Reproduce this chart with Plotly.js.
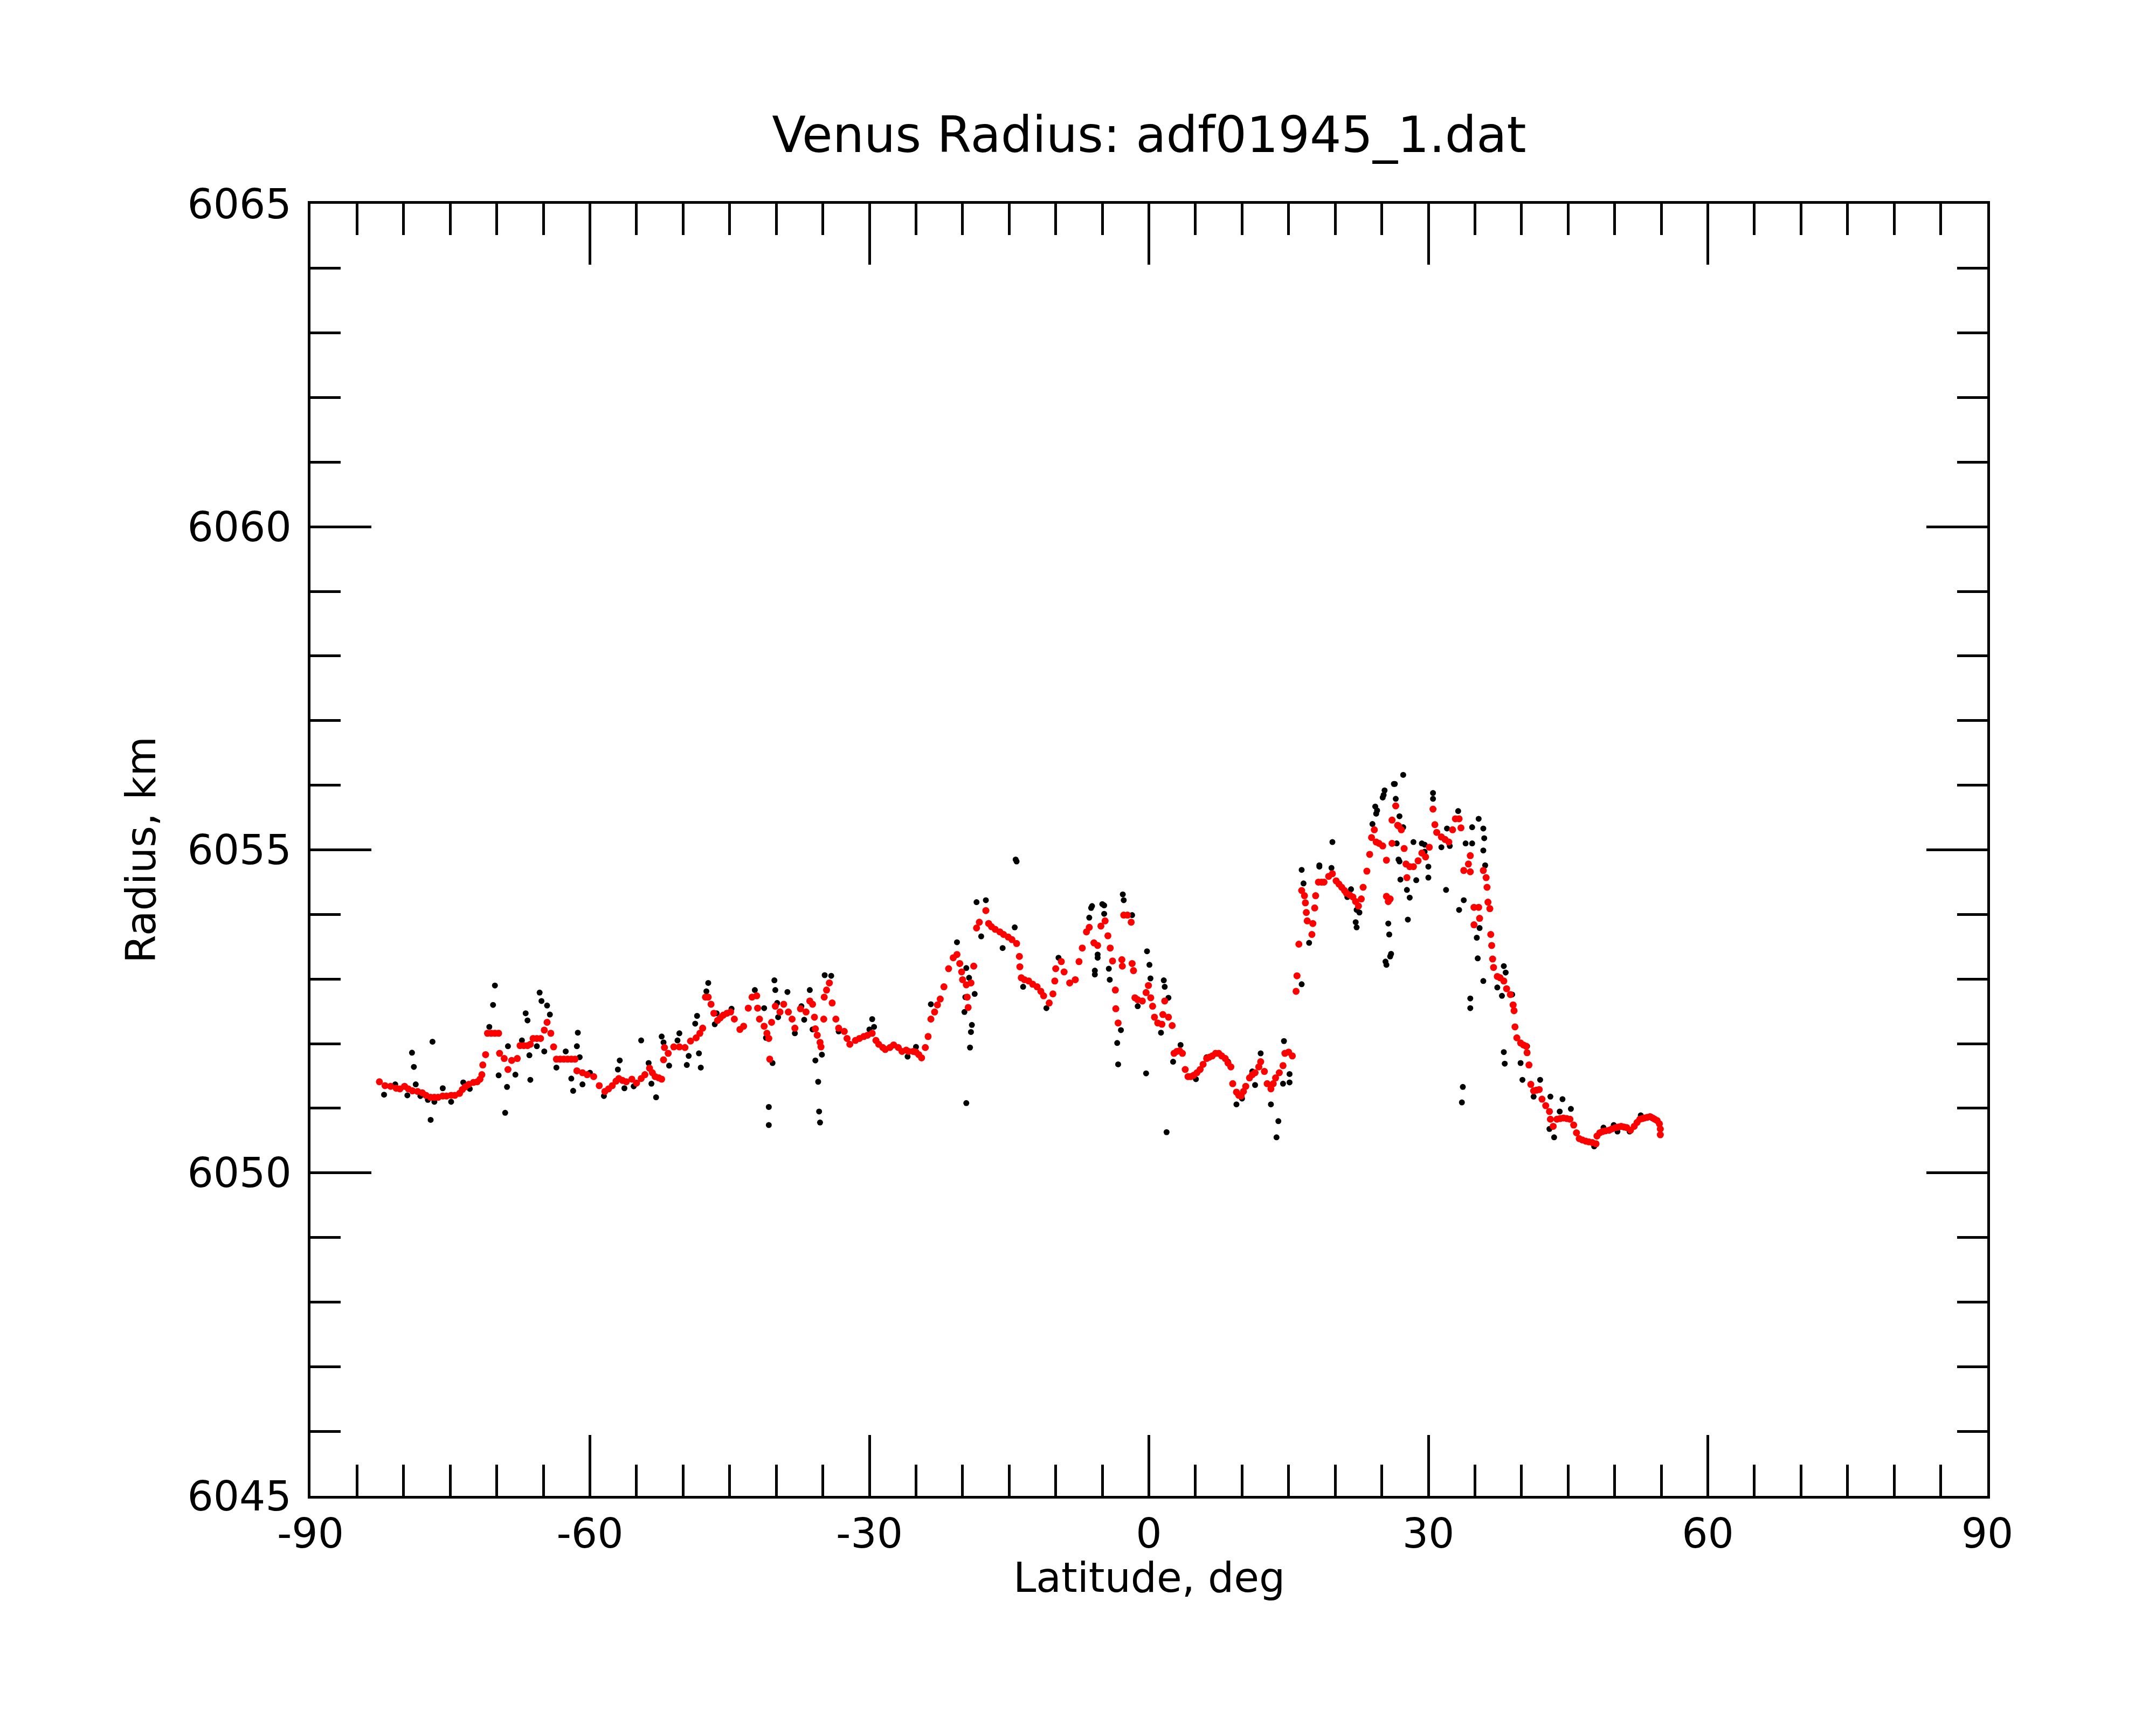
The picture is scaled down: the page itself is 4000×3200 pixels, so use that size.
<!DOCTYPE html>
<html>
<head>
<meta charset="utf-8">
<script src="https://cdn.plot.ly/plotly-3.0.1.min.js"></script>
<style>
  html, body { margin: 0; padding: 0; background: #fff; }
  #plot { width: 4000px; height: 3200px; }
</style>
</head>
<body>
<div id="plot"></div>
<script>
// smoothed radius (red)
const latRed = [
  -82.6, -82.0, -81.4, -80.8, -80.4, -79.9, -79.5, -79.05, -78.5, -78.0,
  -77.6, -77.1, -76.7, -76.3, -75.8, -75.4, -74.9, -74.5, -74.0, -73.7,
  -73.4, -73.0, -72.5, -72.1, -71.8, -71.6, -71.5, -71.2, -71.0, -70.6,
  -70.2, -69.8, -69.7, -69.2, -68.8, -68.4, -67.8, -67.5, -67.1, -66.7,
  -66.4, -66.1, -65.7, -65.3, -64.9, -64.6, -64.2, -63.9, -63.6, -63.2,
  -62.8, -62.4, -62.0, -61.6, -61.4, -60.8, -60.3, -59.6, -59.0, -58.4,
  -58.0, -57.6, -57.2, -56.9, -56.5, -56.1, -55.5, -55.0, -54.5, -54.1,
  -53.6, -53.3, -53.0, -52.6, -52.3, -52.1, -52.0, -51.6,
  -51.0, -50.4, -49.8, -49.2, -48.6, -48.2, -47.9, -47.6, -47.3, -47.0,
  -46.7, -46.3, -46.0, -45.7, -45.3, -44.9, -44.5, -43.9, -43.5, -43.0,
  -42.6, -42.1, -42.0, -41.8, -41.3, -41.0, -40.8, -40.7, -40.5, -40.1,
  -39.6, -39.2, -38.7, -38.3, -38.0, -37.4, -36.8, -36.4, -36.1, -35.9,
  -35.8, -35.6, -35.3, -35.2, -34.9, -34.85, -34.6, -34.3, -34.0, -33.6,
  -33.3, -32.7, -32.4, -32.1, -31.5, -31.07, -30.6, -30.2, -29.7, -29.3,
  -29.0, -28.56, -28.3, -27.8, -27.4, -26.9, -26.5, -26.05, -25.8, -25.3,
  -25.0, -24.7, -24.4, -24.0, -23.7, -23.4, -23.0, -22.7, -22.4, -22.0,
  -21.5, -21.0, -20.6, -20.3, -20.1, -20.0, -19.6, -19.4, -19.5, -19.1,
  -18.8, -18.5, -18.2, -17.5, -17.2, -16.9, -16.5, -16.0, -15.6, -15.1,
  -14.7, -14.2, -13.9, -13.85, -13.7, -13.36, -12.9, -12.47, -12.0, -11.6,
  -11.3, -10.7, -10.3, -10.1, -10.0, -9.4, -9.1, -8.5, -7.9, -7.5,
  -7.15, -6.7, -6.4, -5.9, -5.5, -5.15, -4.7, -4.4, -4.15, -3.9,
  -3.6, -3.55, -3.3, -2.9, -2.85, -2.7, -2.3, -1.9, -1.8, -1.65,
  -1.5, -1.2, -0.7, -0.3, -0.05, 0.2, 0.4, 0.6, 0.95, 1.4,
  1.5, 1.7, 2.1, 2.5, 2.7, 3.0, 3.3, 3.6, 3.9, 4.2,
  4.49, 4.8, 5.16, 5.5, 5.82, 6.2, 6.49, 6.8, 7.16, 7.5,
  7.82, 8.2, 8.49, 8.8, 9.0, 9.4, 9.65, 9.9, 10.15, 10.4,
  10.8, 11.1, 11.4, 11.8, 12.0, 12.4, 12.7, 13.1, 13.35, 13.6,
  14.0, 14.4, 14.6, 15.0, 15.4, 15.8, 15.9, 16.1, 16.4, 16.7,
  16.8, 16.9, 17.0, 17.5, 17.6, 17.8, 17.9, 18.2, 18.53, 18.8,
  19.3, 19.7, 20.1, 20.4, 20.7, 21.0, 21.2, 21.57, 21.9, 22.19,
  22.5, 22.8, 23.0, 23.4, 23.7, 23.9, 24.2, 24.4, 24.7, 25.1,
  25.5, 25.5, 25.7, 25.9, 26.1, 26.1, 26.5, 26.7,
  26.8, 27.1, 27.4, 27.6, 27.7, 28.0, 28.4, 28.9, 29.3, 29.7,
  30.1, 30.5, 30.7, 30.9, 31.4, 31.8, 32.2, 32.6, 32.9, 33.3,
  33.5, 33.8, 34.3, 34.5, 34.5, 34.9, 34.9, 35.4, 35.5, 35.9,
  36.2, 36.3, 36.4, 36.6, 36.7, 36.8, 36.9, 37.0, 37.4, 37.7,
  38.1, 38.4, 38.8, 39.1, 39.2, 39.3, 39.5, 39.9, 40.2, 40.5,
  40.6, 40.8, 41.0, 41.3, 41.6, 41.9, 42.2, 42.6, 43.0, 43.1,
  43.4, 43.8, 44.15, 44.5, 44.87, 45.2, 45.6, 45.9, 46.2, 46.53,
  46.9, 47.22, 47.6, 48.0, 48.1, 48.4, 48.7, 49.0, 49.4, 49.7,
  50.1, 50.4, 50.7, 51.0, 51.3, 51.7, 52.1, 52.4, 52.7, 52.96,
  53.2, 53.5, 53.8, 54.07, 54.3, 54.56, 54.8, 54.9, 54.9
];
const radRed = [
  6051.41, 6051.35, 6051.34, 6051.31, 6051.30, 6051.34, 6051.30, 6051.27, 6051.26, 6051.24,
  6051.20, 6051.17, 6051.17, 6051.17, 6051.19, 6051.19, 6051.20, 6051.20, 6051.23, 6051.29,
  6051.33, 6051.37, 6051.40, 6051.41, 6051.45, 6051.52, 6051.67, 6051.83, 6052.16, 6052.16,
  6052.16, 6052.16, 6051.85, 6051.77, 6051.60, 6051.74, 6051.77, 6051.97, 6051.97, 6051.97,
  6051.99, 6052.08, 6052.08, 6052.08, 6052.21, 6052.33, 6052.16, 6051.95, 6051.76, 6051.76,
  6051.76, 6051.76, 6051.76, 6051.76, 6051.58, 6051.55, 6051.52, 6051.49, 6051.35, 6051.26,
  6051.30, 6051.35, 6051.42, 6051.46, 6051.43, 6051.41, 6051.45, 6051.39, 6051.46, 6051.52,
  6051.62, 6051.55, 6051.49, 6051.47, 6051.45, 6051.75, 6051.94, 6051.85,
  6051.95, 6051.95, 6051.94, 6052.04, 6052.09, 6052.16, 6052.24, 6052.72, 6052.72, 6052.61,
  6052.47, 6052.36, 6052.40, 6052.44, 6052.47, 6052.49, 6052.38, 6052.22, 6052.27, 6052.55,
  6052.72, 6052.74, 6052.55, 6052.38, 6052.27, 6052.16, 6052.08, 6051.76, 6052.33, 6052.58,
  6052.49, 6052.61, 6052.49, 6052.38, 6052.24, 6052.54, 6052.49, 6052.66, 6052.61, 6052.41,
  6052.23, 6052.13, 6052.02, 6051.95, 6052.38, 6052.72, 6052.83, 6052.94, 6052.63, 6052.38,
  6052.24, 6052.19, 6052.08, 6051.99, 6052.05, 6052.08, 6052.11, 6052.13, 6052.16, 6052.05,
  6051.99, 6051.94, 6051.91, 6051.94, 6051.98, 6051.94, 6051.88, 6051.90, 6051.88, 6051.88,
  6051.87, 6051.83, 6051.78, 6051.94, 6052.11, 6052.38, 6052.49, 6052.60, 6052.69, 6052.88,
  6053.16, 6053.33, 6053.38, 6053.24, 6053.11, 6052.99, 6052.91, 6052.56, 6052.72, 6052.94,
  6053.20, 6053.79, 6053.88, 6054.06, 6053.86, 6053.81, 6053.77, 6053.73, 6053.69, 6053.65,
  6053.61, 6053.55, 6053.35, 6053.19, 6053.02, 6052.99, 6052.97, 6052.92, 6052.88, 6052.81,
  6052.74, 6052.63, 6052.77, 6052.97, 6053.16, 6053.27, 6053.11, 6052.94, 6052.99, 6053.27,
  6053.48, 6053.73, 6053.80, 6053.56, 6053.52, 6053.82, 6053.90, 6053.67, 6053.48, 6053.28,
  6052.83, 6052.54, 6052.32, 6053.30, 6053.20, 6053.99, 6053.99, 6053.88, 6053.24, 6053.13,
  6052.71, 6052.68, 6052.66, 6052.79, 6052.90, 6052.71, 6052.58, 6052.41, 6052.32, 6052.30,
  6052.45, 6052.66, 6052.41, 6052.28, 6051.85, 6051.88, 6051.89, 6051.85, 6051.60, 6051.49,
  6051.49, 6051.51, 6051.55, 6051.60, 6051.68, 6051.77, 6051.79, 6051.81, 6051.85, 6051.85,
  6051.81, 6051.77, 6051.70, 6051.64, 6051.38, 6051.25, 6051.20, 6051.19, 6051.26, 6051.34,
  6051.47, 6051.52, 6051.55, 6051.64, 6051.72, 6051.57, 6051.38, 6051.30, 6051.38, 6051.47,
  6051.55, 6051.66, 6051.85, 6051.87, 6051.81, 6052.81, 6053.05, 6053.54, 6054.37, 6054.29,
  6054.18, 6054.03, 6053.90, 6053.69, 6053.86, 6054.10, 6054.29, 6054.50, 6054.50, 6054.50,
  6054.59, 6054.63, 6054.52, 6054.47, 6054.42, 6054.37, 6054.33, 6054.30, 6054.27, 6054.20,
  6054.13, 6054.24, 6054.42, 6054.67, 6054.93, 6055.19, 6055.31, 6055.12, 6055.10, 6055.06,
  6054.84, 6054.28, 6054.20, 6054.24, 6055.10, 6055.46, 6055.68, 6055.38,
  6055.37, 6055.31, 6055.02, 6054.78, 6054.57, 6054.74, 6054.74, 6054.83, 6054.95, 6054.89,
  6055.04, 6055.63, 6055.39, 6055.27, 6055.20, 6055.16, 6055.12, 6055.31, 6055.48, 6055.48,
  6055.34, 6054.68, 6054.78, 6054.91, 6054.66, 6054.11, 6053.84, 6054.11, 6053.94, 6054.68,
  6054.57, 6054.42, 6054.19, 6054.09, 6053.69, 6053.52, 6053.31, 6053.18, 6053.04, 6053.02,
  6052.97, 6052.85, 6052.76, 6052.60, 6052.51, 6052.26, 6052.09, 6052.01, 6051.98, 6051.96,
  6051.86, 6051.67, 6051.37, 6051.27, 6051.28, 6051.29, 6051.14, 6051.04, 6050.95, 6050.83,
  6050.72, 6050.83, 6050.84, 6050.85, 6050.84, 6050.83, 6050.74, 6050.62, 6050.53, 6050.51,
  6050.49, 6050.48, 6050.47, 6050.45, 6050.57, 6050.62, 6050.64, 6050.65, 6050.66, 6050.68,
  6050.70, 6050.71, 6050.72, 6050.71, 6050.70, 6050.66, 6050.72, 6050.78, 6050.83, 6050.84,
  6050.85, 6050.86, 6050.87, 6050.85, 6050.83, 6050.81, 6050.76, 6050.68, 6050.59
];

// raw radius samples (black)
const latBlack = [
  -82.1, -80.9, -79.6, -79.1, -78.9, -78.7, -78.2, -77.4, -77.1, -76.9,
  -76.7, -75.8, -74.9, -73.6, -72.9, -70.8, -70.4, -70.2, -69.8, -69.1,
  -68.9, -68.8, -68.0, -67.3, -66.9, -66.7, -66.5, -66.4, -65.7, -65.4,
  -65.2, -64.9, -64.6, -64.3, -63.6, -62.6, -62.0, -61.8, -61.4, -61.3,
  -61.1, -60.8, -60.0, -58.5, -57.0, -56.8, -56.3, -55.3, -54.5, -53.7,
  -53.4, -52.9, -52.3, -52.1, -51.5, -50.6, -49.6, -48.7,
  -50.4, -49.4, -48.5, -48.3, -48.1, -47.3, -47.5, -46.4, -46.6, -44.8,
  -42.3, -41.3, -41.1, -40.8, -40.8, -40.4, -40.2, -40.1, -39.9, -39.8,
  -38.8, -38.0, -37.3, -37.0, -36.4, -36.1, -35.8, -35.5, -35.4, -35.3,
  -35.1, -34.8, -34.1, -33.3, -29.7, -29.5, -30.0, -25.9, -25.0, -23.4,
  -20.6, -19.7, -19.8, -19.6, -19.3, -19.0, -19.1, -19.2, -19.6, -18.7,
  -18.5, -17.5, -18.0, -15.7, -14.4, -14.3, -14.2, -13.5, -11.0, -9.7,
  -6.1, -5.5, -5.8, -5.0,
  -6.2, -6.4, -5.8, -5.5, -4.8, -4.8, -4.3, -4.2, -3.4, -3.3,
  -3.0, -2.8, -2.7, -1.8, -1.2, -0.3, -0.2, 0.06, 0.17, 1.3,
  1.6, 1.7, 1.9, 2.1, 2.6, 3.4, 5.05, 6.2, 8.5, 9.4,
  10.0, 11.1, 11.4, 12.0, 13.1, 13.7, 13.9, 14.4, 14.5, 15.1,
  15.1, 16.4, 16.4, 16.6, 17.2, 18.3, 19.7, 19.6, 21.7, 21.3,
  22.3, 22.6, 24.0, 24.5, 25.2, 25.7, 25.8, 25.9, 25.5, 26.3,
  26.6, 26.9, 27.0,
  18.3, 22.2, 22.3, 24.3, 24.4, 25.3, 25.1, 26.4, 27.3, 26.5,
  26.0, 25.4, 26.9, 27.3, 26.8, 27.7, 28.0, 27.8, 28.4, 28.7,
  29.3, 29.6, 29.6, 30.0, 30.0, 30.5, 30.5, 31.4, 31.9, 32.0,
  32.3, 33.2, 33.3, 33.8, 34.0, 34.7, 34.7, 35.4, 35.9, 36.0,
  35.9, 36.1, 35.2, 35.3, 35.9, 34.5, 34.5, 33.7, 33.6, 35.5,
  38.1, 38.3, 37.4, 37.9, 38.1, 38.2, 39.0, 39.9, 40.1, 40.6,
  41.3, 42.0, 43.1, 44.4, 45.3, 44.1, 43.5, 43.0, 47.8, 48.8,
  49.9, 50.3, 51.6, 52.8, 53.9
];
const radBlack = [
  6051.21, 6051.37, 6051.20, 6051.86, 6051.64, 6051.37, 6051.19, 6051.13, 6050.82, 6052.03,
  6051.10, 6051.31, 6051.10, 6051.40, 6051.30, 6052.26, 6052.60, 6052.90, 6051.51, 6050.93,
  6051.33, 6051.96, 6051.52, 6052.05, 6052.47, 6052.36, 6051.82, 6051.44, 6051.96, 6052.79,
  6052.66, 6051.88, 6052.59, 6052.45, 6051.63, 6051.88, 6051.46, 6051.27, 6051.96, 6052.17,
  6051.79, 6051.37, 6051.55, 6051.19, 6051.60, 6051.74, 6051.31, 6051.34, 6052.05, 6051.70,
  6051.38, 6051.17, 6052.11, 6052.02, 6051.66, 6052.05, 6051.67, 6052.31,
  6052.16, 6051.81, 6052.43, 6051.85, 6051.63, 6052.94, 6052.81, 6052.47, 6052.30, 6052.54,
  6052.83, 6052.55, 6052.09, 6051.02, 6050.74, 6051.70, 6052.98, 6052.83, 6052.63, 6052.41,
  6052.80, 6052.16, 6052.58, 6052.37, 6052.83, 6052.22, 6051.74, 6051.41, 6050.95, 6050.78,
  6051.83, 6053.06, 6053.05, 6052.19, 6052.38, 6052.26, 6052.22, 6051.80, 6051.95, 6052.61,
  6053.57, 6052.72, 6052.49, 6053.17, 6053.02, 6052.29, 6052.18, 6051.94, 6051.08, 6052.77,
  6054.19, 6054.22, 6053.66, 6053.48, 6053.80, 6054.85, 6054.82, 6052.88, 6052.55, 6053.33,
  6054.13, 6053.38, 6053.13, 6054.16,
  6054.10, 6053.95, 6053.07, 6053.33, 6054.14, 6054.01, 6053.16, 6052.99, 6052.01, 6051.68,
  6052.21, 6054.31, 6054.22, 6053.99, 6052.58, 6051.54, 6053.43, 6053.22, 6053.01, 6052.17,
  6052.98, 6052.88, 6050.63, 6052.71, 6051.72, 6051.98, 6051.45, 6051.79, 6051.72, 6051.06,
  6051.15, 6051.57, 6051.36, 6051.85, 6051.06, 6050.55, 6050.80, 6051.38, 6052.04, 6051.53,
  6051.40, 6052.92, 6054.69, 6054.48, 6053.56, 6054.74, 6055.12, 6054.72, 6054.39, 6054.27,
  6053.80, 6054.03, 6055.40, 6055.61, 6055.85, 6053.86, 6053.69, 6053.35, 6053.22, 6056.02,
  6055.10, 6054.82, 6054.54,
  6054.76, 6053.88, 6054.07, 6055.67, 6055.56, 6055.92, 6055.81, 6056.02, 6056.16, 6055.79,
  6053.39, 6053.27, 6055.52, 6055.35, 6054.85, 6054.38, 6054.26, 6053.92, 6055.12, 6054.53,
  6055.10, 6054.97, 6055.08, 6054.74, 6054.57, 6055.88, 6055.79, 6055.04, 6054.38, 6055.33,
  6055.06, 6055.60, 6054.07, 6054.22, 6055.10, 6055.10, 6055.35, 6055.48, 6055.33, 6055.18,
  6054.99, 6054.76, 6053.64, 6053.32, 6052.97, 6052.70, 6052.55, 6051.33, 6051.09, 6053.79,
  6053.20, 6053.10, 6052.87, 6052.74, 6051.87, 6051.69, 6052.76, 6051.70, 6051.44, 6051.96,
  6051.18, 6051.44, 6051.18, 6051.14, 6050.99, 6050.95, 6050.55, 6050.68, 6050.41, 6050.70,
  6050.74, 6050.64, 6050.64, 6050.89, 6050.87
];

const xTicks = [-90, -60, -30, 0, 30, 60, 90];
const yTicks = [6045, 6050, 6055, 6060, 6065];

const font = 'DejaVu Sans, sans-serif';

const rawTrace = {
    x: latBlack,
    y: radBlack,
    mode: 'markers',
    type: 'scatter',
    marker: {color: '#000000', size: 11},
    hoverinfo: 'none'
};
const smoothTrace = {
    x: latRed,
    y: radRed,
    mode: 'markers',
    type: 'scatter',
    marker: {color: '#ff0000', size: 13},
    hoverinfo: 'none'
};

const layout = {
    width: 4000,
    height: 3200,
    showlegend: false,
    paper_bgcolor: '#ffffff',
    plot_bgcolor: '#ffffff',
    margin: {l: 576, r: 313, t: 378, b: 425, pad: 0},
    font: {family: font, size: 76, color: '#000'},
    title: {
        text: 'Venus Radius: adf01945_1.dat',
        font: {family: font, size: 92, color: '#000'},
        x: 0.533,
        xanchor: 'center',
        y: 0.922,
        yanchor: 'middle',
        yref: 'container'
    },
    // x title drawn as an annotation so it can sit a bit closer to the tick labels
    annotations: [{
        text: 'Latitude, deg',
        xref: 'paper',
        yref: 'paper',
        x: 0.5,
        y: -0.063,
        xanchor: 'center',
        yanchor: 'middle',
        showarrow: false,
        font: {family: font, size: 76, color: '#000'}
    }],
    xaxis: {
        range: [-90, 90],
        tickvals: xTicks,
        ticktext: xTicks.map(String),
        ticks: 'inside',
        ticklen: 113,
        tickwidth: 5,
        tickcolor: '#000',
        minor: {dtick: 5, ticks: 'inside', ticklen: 58, tickwidth: 5, tickcolor: '#000'},
        showline: true,
        linewidth: 5,
        linecolor: '#000',
        mirror: 'ticks',
        showgrid: false,
        zeroline: false,
        tickfont: {family: font, size: 76}
    },
    yaxis: {
        range: [6045, 6065],
        tickvals: yTicks,
        ticktext: yTicks.map(String),
        ticks: 'inside',
        ticklen: 113,
        tickwidth: 5,
        tickcolor: '#000',
        minor: {dtick: 1, ticks: 'inside', ticklen: 56, tickwidth: 5, tickcolor: '#000'},
        showline: true,
        linewidth: 5,
        linecolor: '#000',
        mirror: 'ticks',
        showgrid: false,
        zeroline: false,
        ticklabelstandoff: 15,
        tickfont: {family: font, size: 76},
        title: {text: 'Radius, km', font: {family: font, size: 76}, standoff: 35}
    }
};

Plotly.newPlot('plot', [rawTrace, smoothTrace], layout, {displayModeBar: false, staticPlot: true});
</script>
</body>
</html>
